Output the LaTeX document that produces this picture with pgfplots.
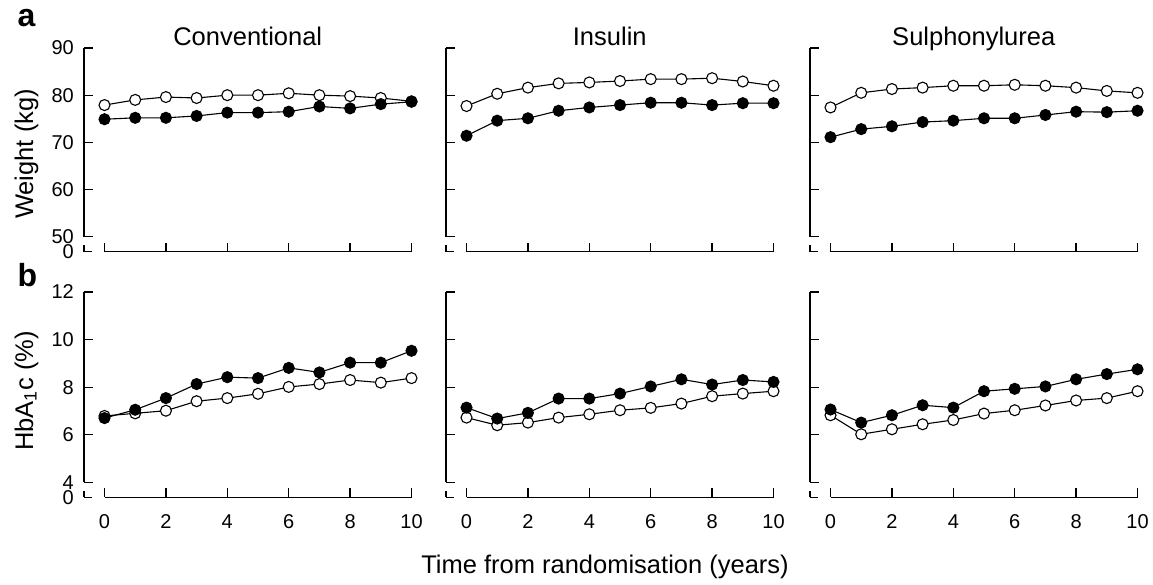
\documentclass[border=0pt]{standalone}
\usepackage{fontspec}
\setmainfont{Liberation Sans}
\usepackage{pgfplots}
\pgfplotsset{compat=1.18}

\newcommand{\ticksize}{\fontsize{20}{20}\selectfont}
\newcommand{\labsize}{\fontsize{25.5}{26}\selectfont}

\tikzset{axl/.style={black, line width=1.3pt}}

\pgfplotsset{
  panel/.style={
    scale only axis, width=327.5pt, clip=false,
    xmin=-0.668, xmax=10,
    axis x line*=bottom, axis y line*=left,
    axis line style={draw=none},
    tick align=inside, major tick length=9pt,
    tick style={black, line width=1.3pt},
    xtick={0,2,...,10},
    /pgf/number format/assume math mode=true,
    tick label style={font=\ticksize},
    yticklabel style={inner sep=0pt, xshift=-10pt},
    xticklabel style={inner sep=0pt, yshift=-17pt},
    extra tick style={major tick length=8pt},
  },
  wtop/.style={panel, height=203.7pt, ymin=46.82, ymax=90,
    ytick={50,60,...,90}, xticklabels={}, extra y ticks={46.82}},
  hbot/.style={panel, height=205.3pt, ymin=3.37, ymax=12,
    ytick={4,6,...,12}, extra y ticks={3.37}},
  noy/.style={yticklabels={}, extra y tick labels={}},
  openser/.style={black, line width=1.1pt, mark=*, mark size=5.5pt,
    mark options={fill=white, line width=1.1pt}},
  fillser/.style={black, line width=1.1pt, mark=*, mark size=5.5pt,
    mark options={fill=black}},
}

\begin{document}
\begin{tikzpicture}
\useasboundingbox (0,0) rectangle (1153pt,-585pt);

% ---- row a: weight ----
\begin{axis}[wtop, extra y tick labels={0}, at={(84pt,-251.7pt)}, anchor=south west]
\draw[axl] (axis cs:-0.668,50) -- (axis cs:-0.668,90);
\draw[axl] (axis cs:-0.668,46.82) -- (axis cs:-0.668,48.2);
\draw[axl] (axis cs:0,46.82) -- (axis cs:10,46.82);
\addplot[openser] coordinates {
  (0,77.9) (1,79.0) (2,79.6) (3,79.4) (4,80.0) (5,80.0)
  (6,80.4) (7,80.0) (8,79.8) (9,79.4) (10,78.7)};
\addplot[fillser] coordinates {
  (0,74.9) (1,75.2) (2,75.2) (3,75.6) (4,76.3) (5,76.3)
  (6,76.5) (7,77.6) (8,77.2) (9,78.1) (10,78.6)};
\node[font=\labsize, anchor=base] at (rel axis cs:0.5,1) [yshift=2.5pt] {Conventional};
\end{axis}

\begin{axis}[wtop, noy, at={(446pt,-251.7pt)}, anchor=south west]
\draw[axl] (axis cs:-0.668,50) -- (axis cs:-0.668,90);
\draw[axl] (axis cs:-0.668,46.82) -- (axis cs:-0.668,48.2);
\draw[axl] (axis cs:0,46.82) -- (axis cs:10,46.82);
\addplot[openser] coordinates {
  (0,77.7) (1,80.3) (2,81.6) (3,82.5) (4,82.7) (5,83.0)
  (6,83.4) (7,83.4) (8,83.6) (9,82.9) (10,82.0)};
\addplot[fillser] coordinates {
  (0,71.4) (1,74.6) (2,75.1) (3,76.7) (4,77.4) (5,77.9)
  (6,78.4) (7,78.4) (8,77.9) (9,78.3) (10,78.3)};
\node[font=\labsize, anchor=base] at (rel axis cs:0.5,1) [yshift=2.5pt] {Insulin};
\end{axis}

\begin{axis}[wtop, noy, at={(810pt,-251.7pt)}, anchor=south west]
\draw[axl] (axis cs:-0.668,50) -- (axis cs:-0.668,90);
\draw[axl] (axis cs:-0.668,46.82) -- (axis cs:-0.668,48.2);
\draw[axl] (axis cs:0,46.82) -- (axis cs:10,46.82);
\addplot[openser] coordinates {
  (0,77.4) (1,80.5) (2,81.3) (3,81.6) (4,82.0) (5,82.0)
  (6,82.2) (7,82.0) (8,81.6) (9,80.9) (10,80.5)};
\addplot[fillser] coordinates {
  (0,71.1) (1,72.8) (2,73.4) (3,74.3) (4,74.6) (5,75.1)
  (6,75.1) (7,75.8) (8,76.5) (9,76.4) (10,76.7)};
\node[font=\labsize, anchor=base] at (rel axis cs:0.5,1) [yshift=2.5pt] {Sulphonylurea};
\end{axis}

% ---- row b: HbA1c ----
\begin{axis}[hbot, extra y tick labels={0}, at={(84pt,-497.3pt)}, anchor=south west]
\draw[axl] (axis cs:-0.668,4) -- (axis cs:-0.668,12);
\draw[axl] (axis cs:-0.668,3.37) -- (axis cs:-0.668,3.64);
\draw[axl] (axis cs:0,3.37) -- (axis cs:10,3.37);
\addplot[openser] coordinates {
  (0,6.79) (1,6.90) (2,7.01) (3,7.41) (4,7.54) (5,7.72)
  (6,8.01) (7,8.13) (8,8.30) (9,8.19) (10,8.38)};
\addplot[fillser] coordinates {
  (0,6.70) (1,7.05) (2,7.54) (3,8.13) (4,8.42) (5,8.38)
  (6,8.81) (7,8.62) (8,9.03) (9,9.03) (10,9.53)};
\end{axis}

\begin{axis}[hbot, noy, at={(446pt,-497.3pt)}, anchor=south west]
\draw[axl] (axis cs:-0.668,4) -- (axis cs:-0.668,12);
\draw[axl] (axis cs:-0.668,3.37) -- (axis cs:-0.668,3.64);
\draw[axl] (axis cs:0,3.37) -- (axis cs:10,3.37);
\addplot[openser] coordinates {
  (0,6.72) (1,6.40) (2,6.51) (3,6.72) (4,6.86) (5,7.03)
  (6,7.13) (7,7.31) (8,7.62) (9,7.73) (10,7.83)};
\addplot[fillser] coordinates {
  (0,7.14) (1,6.68) (2,6.92) (3,7.52) (4,7.52) (5,7.73)
  (6,8.03) (7,8.33) (8,8.11) (9,8.30) (10,8.22)};
\end{axis}

\begin{axis}[hbot, noy, at={(810pt,-497.3pt)}, anchor=south west]
\draw[axl] (axis cs:-0.668,4) -- (axis cs:-0.668,12);
\draw[axl] (axis cs:-0.668,3.37) -- (axis cs:-0.668,3.64);
\draw[axl] (axis cs:0,3.37) -- (axis cs:10,3.37);
\addplot[openser] coordinates {
  (0,6.82) (1,6.02) (2,6.23) (3,6.44) (4,6.62) (5,6.89)
  (6,7.03) (7,7.23) (8,7.44) (9,7.54) (10,7.83)};
\addplot[fillser] coordinates {
  (0,7.06) (1,6.51) (2,6.82) (3,7.24) (4,7.14) (5,7.83)
  (6,7.93) (7,8.03) (8,8.33) (9,8.55) (10,8.75)};
\end{axis}

% panel letters and shared labels
\node[font=\fontsize{32}{32}\selectfont\bfseries, anchor=base west] at (14pt,-27pt) {a};
\node[font=\fontsize{32}{32}\selectfont\bfseries, anchor=base west] at (14pt,-286pt) {b};
\node[font=\labsize, rotate=90, anchor=base] at (33pt,-154pt) {Weight (kg)};
\node[font=\labsize, rotate=90, anchor=base] at (33pt,-391pt) {HbA\textsubscript{1}c (\%)};
\node[font=\labsize, anchor=base] at (605pt,-573pt) {Time from randomisation (years)};
\end{tikzpicture}
\end{document}
